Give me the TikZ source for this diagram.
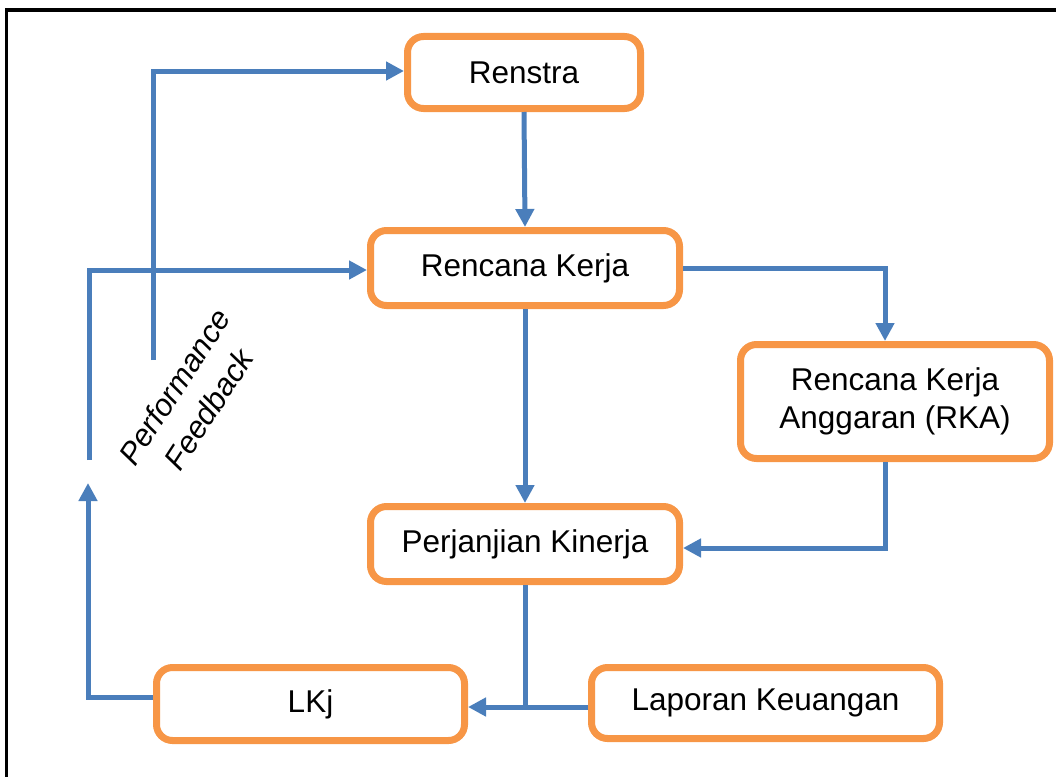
\documentclass[tikz,border=0pt]{standalone}
\usepackage{fontspec}
\setmainfont{Liberation Sans}
\usetikzlibrary{arrows.meta}
\definecolor{boxorange}{HTML}{F79646}
\definecolor{flowblue}{HTML}{4A7EBB}
\tikzset{
  stage/.style={draw=boxorange, line width=7pt, fill=white, rounded corners=16pt,
    align=center, inner sep=0pt, font=\fontsize{31.5}{38}\selectfont},
  flow/.style={draw=flowblue, line width=5pt, line join=miter},
  flowarrow/.style={flow, -{Triangle[length=18pt,width=18pt]}},
}
\begin{document}
\begin{tikzpicture}[x=1pt,y=-1pt]
\useasboundingbox (0,0) rectangle (1056,776);
% outer frame (runs off the page on the right and at the bottom)
\draw[line width=3.4pt, line join=miter] (1060,10) -- (6.7,10) -- (6.7,780);

% stages
\node[stage, minimum width=233pt, minimum height=72pt] (renstra) at (524,72.5) {Renstra};
\node[stage, minimum width=309pt, minimum height=75pt] (rk) at (525,268) {Rencana Kerja};
\node[stage, minimum width=309pt, minimum height=114pt] (rka) at (895,401.5) {Rencana Kerja\\Anggaran (RKA)};
\node[stage, minimum width=309pt, minimum height=75pt] (pk) at (525,544) {Perjanjian Kinerja};
\node[stage, minimum width=308pt, minimum height=73pt] (lkj) at (310.5,704) {LKj};
\node[stage, minimum width=348pt, minimum height=71pt] (lk) at (765.5,703) {Laporan Keuangan};

% main flow
\draw[flowarrow] (renstra.south) -- (rk.north);
\draw[flowarrow] (rk.south) -- (pk.north);
\draw[flowarrow] (rk.east) -| ([xshift=-10pt]rka.north);
\draw[flowarrow] ([xshift=-10pt]rka.south) |- ([yshift=-4pt]pk.east);
\coordinate (join) at (525,707);
\draw[flow] (pk.south) -- (join);
\draw[flowarrow] (lk.west |- join) -- (lkj.east |- join);

% performance feedback loop
\coordinate (fbup) at (88,483);
\coordinate (fbrk) at (89,460);
\coordinate (fbrenstra) at (153,360);
\draw[flowarrow] ([yshift=7pt]lkj.west) -| (fbup);
\draw[flowarrow] (fbrk) |- ([yshift=-2pt]rk.west);
\draw[flowarrow] (fbrenstra) |- ([yshift=1.5pt]renstra.west);
\node[rotate=57, align=center, font=\fontsize{31}{41}\selectfont\itshape] (fbtext) at (191.5,398) {Performance\\Feedback};
\end{tikzpicture}
\end{document}
